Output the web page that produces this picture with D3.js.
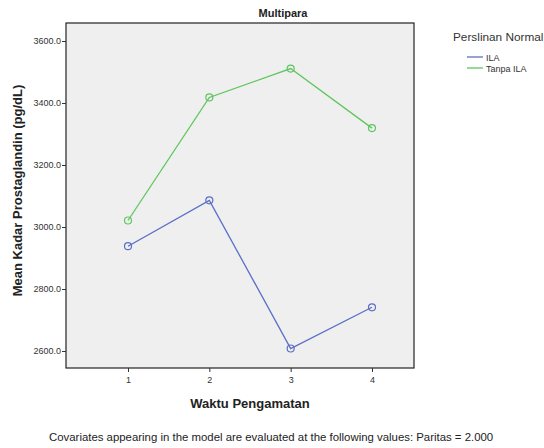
<!DOCTYPE html>
<html>
<head>
<meta charset="utf-8">
<script src="https://cdn.jsdelivr.net/npm/d3@7"></script>
<style>
  body { margin: 0; background: #fff; }
  svg { font-family: "Liberation Sans", Arial, sans-serif; }
</style>
</head>
<body>
<div id="chart"></div>
<script>
// data
const waktu = [1, 2, 3, 4];
const seriesNames = ["ILA", "Tanpa ILA"];
const ilaValues = [2938, 3086, 2608, 2741];
const tanpaIlaValues = [3021, 3418, 3511, 3319];
const yTicks = [2600, 2800, 3000, 3200, 3400, 3600];
const colors = ["#5b6fc6", "#5fc65f"];

const W = 544, H = 448;
const box = { left: 66, right: 414, top: 23, bottom: 368 };

const svg = d3.select("#chart").append("svg")
  .attr("width", W).attr("height", H);

const x = d3.scaleLinear().domain([1, 4]).range([128, 372]);
const y = d3.scaleLinear().domain([2600, 3600]).range([351, 41]);

// plot background
svg.append("rect")
  .attr("x", box.left).attr("y", box.top)
  .attr("width", box.right - box.left).attr("height", box.bottom - box.top)
  .attr("fill", "#efefef").attr("stroke", "#222").attr("stroke-width", 1.2);

// axes
const yAxis = svg.append("g")
  .attr("transform", `translate(${box.left},0)`)
  .call(d3.axisLeft(y).tickValues(yTicks).tickSize(4).tickFormat(d3.format(".1f")));
yAxis.select(".domain").remove();
yAxis.selectAll("text").style("font-size", "9px").attr("fill", "#333").attr("dx", "2px");
yAxis.selectAll("line").attr("stroke", "#333");

const xAxis = svg.append("g")
  .attr("transform", `translate(0,${box.bottom})`)
  .call(d3.axisBottom(x).tickValues(waktu).tickSize(4).tickFormat(d3.format("d")));
xAxis.select(".domain").remove();
xAxis.selectAll("text").style("font-size", "9px").attr("fill", "#333").attr("dy", "0.9em");
xAxis.selectAll("line").attr("stroke", "#333");

// series
const series = [ilaValues, tanpaIlaValues].map((vals, i) => ({
  name: seriesNames[i],
  color: colors[i],
  points: vals.map((v, j) => ({ x: waktu[j], y: v }))
}));

const line = d3.line().x(d => x(d.x)).y(d => y(d.y));

series.forEach(s => {
  svg.append("path")
    .attr("d", line(s.points))
    .attr("fill", "none").attr("stroke", s.color).attr("stroke-width", 1.3);
  svg.append("g").selectAll("circle")
    .data(s.points).join("circle")
    .attr("cx", d => x(d.x)).attr("cy", d => y(d.y)).attr("r", 3.5)
    .attr("fill", "none").attr("stroke", s.color).attr("stroke-width", 1.2);
});

// title & labels
svg.append("text").attr("x", 283).attr("y", 17)
  .attr("text-anchor", "middle").style("font-size", "11px").style("font-weight", "bold")
  .attr("fill", "#222").text("Multipara");

svg.append("text")
  .attr("transform", `translate(22,${(box.top + box.bottom) / 2 - 5}) rotate(-90)`)
  .attr("text-anchor", "middle").style("font-size", "13px").style("font-weight", "bold")
  .attr("fill", "#222").text("Mean Kadar Prostaglandin (pg/dL)");

svg.append("text").attr("x", 250).attr("y", 408)
  .attr("text-anchor", "middle").style("font-size", "13px").style("font-weight", "bold")
  .attr("fill", "#222").text("Waktu Pengamatan");

// legend
svg.append("text").attr("x", 453).attr("y", 41)
  .style("font-size", "11.8px").attr("fill", "#333").text("Perslinan Normal");
const lg = svg.append("g").selectAll("g").data(series).join("g")
  .attr("transform", (d, i) => `translate(467,${57 + i * 11})`);
lg.append("line").attr("x1", 0).attr("x2", 16).attr("y1", 0).attr("y2", 0)
  .attr("stroke", d => d.color).attr("stroke-width", 1.3);
lg.append("text").attr("x", 19).attr("y", 3.5)
  .style("font-size", "9px").attr("fill", "#333").text(d => d.name);

// footer
svg.append("text").attr("x", 49).attr("y", 441)
  .style("font-size", "11.4px").attr("fill", "#222")
  .text("Covariates appearing in the model are evaluated at the following values: Paritas = 2.000");
</script>
</body>
</html>
